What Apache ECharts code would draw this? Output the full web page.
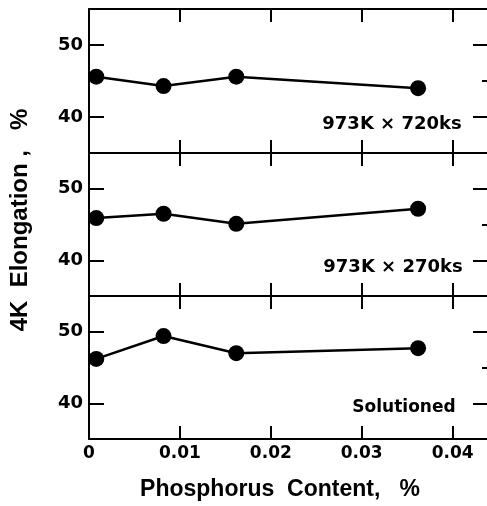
<!DOCTYPE html>
<html><head><meta charset="utf-8">
<script src="https://cdn.jsdelivr.net/npm/echarts@6/dist/echarts.min.js"></script>
<style>html,body{margin:0;padding:0;background:#fff}#c{width:487px;height:506px}</style>
</head><body><div id="c"></div>
<script>
var phosphorus = [0.0008, 0.0082, 0.0162, 0.0362];
var elong720ks = [45.6, 44.3, 45.6, 44.0];
var elong270ks = [45.9, 46.5, 45.1, 47.2];
var elongSolutioned = [46.2, 49.4, 47.0, 47.7];
var xTickLabels = [0, 0.01, 0.02, 0.03, 0.04];
var yTickLabels = [40, 50];
var panelNames = ['973K \u00d7 720ks', '973K \u00d7 270ks', 'Solutioned'];

var chart = echarts.init(document.getElementById('c'), null, {renderer: 'canvas'});
var grids = [
  {left: 89, width: 400, top: 9, height: 144, outerBoundsMode: 'none', containLabel: false},
  {left: 89, width: 400, top: 153, height: 143, outerBoundsMode: 'none', containLabel: false},
  {left: 89, width: 400, top: 296, height: 143, outerBoundsMode: 'none', containLabel: false}
];
var seriesData = [elong720ks, elong270ks, elongSolutioned];
var xAxes = [], yAxes = [], series = [];
var lineStyle = {color: '#000', width: 2};
var numFont = 'DejaVu Sans';
for (var i = 0; i < 3; i++) {
  ['bottom', 'top'].forEach(function (pos) {
    xAxes.push({
      type: 'value', gridIndex: i, position: pos, min: 0, max: 0.044,
      axisLine: {show: true, onZero: false, lineStyle: lineStyle},
      axisTick: {show: true, inside: true, length: 13, lineStyle: lineStyle, customValues: [0.01, 0.02, 0.03, 0.04]},
      axisLabel: {show: (i === 2 && pos === 'bottom'), customValues: xTickLabels, margin: 6,
        color: '#000', fontFamily: numFont, fontWeight: 'bold', fontSize: 17,
        formatter: function (v) { return v === 0 ? '0' : v.toFixed(2); }},
      splitLine: {show: false}
    });
  });
  yAxes.push({
    type: 'value', gridIndex: i, position: 'left', min: 35, max: 55,
    axisLine: {show: true, onZero: false, lineStyle: lineStyle},
    axisTick: {show: true, inside: true, length: 15, lineStyle: lineStyle, customValues: yTickLabels},
    axisLabel: {show: true, customValues: yTickLabels, margin: 6, color: '#000',
      fontFamily: numFont, fontWeight: 'bold', fontSize: 18},
    splitLine: {show: false}
  });
  yAxes.push({
    type: 'value', gridIndex: i, position: 'right', min: 35, max: 55,
    axisLine: {show: true, onZero: false, lineStyle: lineStyle},
    axisTick: {show: true, inside: true, length: 16, lineStyle: lineStyle, customValues: [40, 50]},
    axisLabel: {show: false}, splitLine: {show: false}
  });
  yAxes.push({
    type: 'value', gridIndex: i, position: 'right', min: 35, max: 55,
    axisLine: {show: false, onZero: false},
    axisTick: {show: true, inside: true, length: 7, lineStyle: lineStyle, customValues: [45]},
    axisLabel: {show: false}, splitLine: {show: false}
  });
  var pts = phosphorus.map(function (x, k) { return [x, seriesData[i][k]]; });
  series.push({
    type: 'line', xAxisIndex: i * 2, yAxisIndex: i * 3, data: pts,
    symbol: 'circle', symbolSize: 16, showSymbol: true,
    lineStyle: {color: '#000', width: 2.5},
    itemStyle: {color: '#000'}, animation: false, silent: true
  });
}
var annoPos = [[392, 124], [393, 267], [404, 408]];
var graphics = panelNames.map(function (t, i) {
  return {type: 'text', x: annoPos[i][0], y: annoPos[i][1],
    style: {text: t, fill: '#000', font: 'bold ' + (i === 2 ? 17 : 18) + 'px "DejaVu Sans"',
      textAlign: 'center', textVerticalAlign: 'middle'}};
});
graphics.push({type: 'text', x: 280, y: 490,
  style: {text: 'Phosphorus  Content,   %', fill: '#000', font: 'bold 23px "Liberation Sans"',
    textAlign: 'center', textVerticalAlign: 'middle'}});
graphics.push({type: 'text', x: 20, y: 220, rotation: Math.PI / 2,
  style: {text: '4K  Elongation ,   %', fill: '#000', font: 'bold 24px "Liberation Sans"',
    textAlign: 'center', textVerticalAlign: 'middle'}});

chart.setOption({
  animation: false,
  backgroundColor: '#fff',
  grid: grids,
  xAxis: xAxes,
  yAxis: yAxes,
  series: series,
  graphic: graphics
});
</script></body></html>
